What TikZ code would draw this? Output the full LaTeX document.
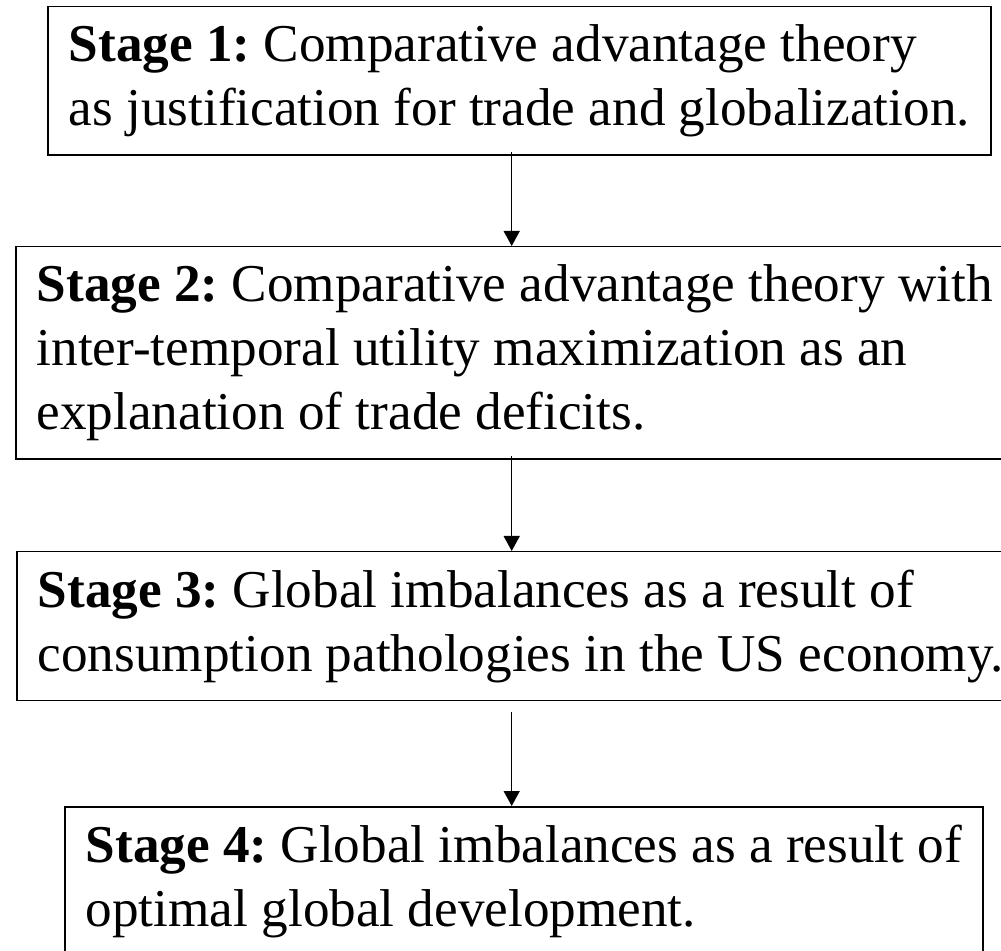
\documentclass[tikz,border=0pt]{standalone}
\usepackage{fontspec}
\setmainfont{Liberation Serif}
\usetikzlibrary{arrows.meta,positioning}

\begin{document}
\begin{tikzpicture}[x=0.5pt,y=0.5pt,
  stagebox/.style={draw,line width=0.75pt,anchor=north west,align=left,
    inner xsep=10.5pt,inner ysep=9pt,font=\fontsize{26.6}{32}\selectfont\frenchspacing},
  flow/.style={line width=0.75pt,-{Triangle[length=7.5pt,width=8pt]}}]
  \useasboundingbox (0,0) rectangle (1001,-951);
  \clip (0,0) rectangle (1001,-951);
  \coordinate (axis) at (511.7,0);
  \node[stagebox] (s1) at (47,-6) {\textbf{Stage 1:} Comparative advantage theory\\as justification for trade and globalization.};
  \node[stagebox] (s2) at (15,-246) {\textbf{Stage 2:} Comparative advantage theory with\\inter-temporal utility maximization as an\\explanation of trade deficits.};
  \node[stagebox] (s3) at (16,-551) {\textbf{Stage 3:} Global imbalances as a result of\\consumption pathologies in the US economy.};
  \node[stagebox] (s4) at (64,-806) {\textbf{Stage 4:} Global imbalances as a result of\\optimal global development.};
  \draw[flow] ([yshift=2pt]s1.south -| axis) -- (s2.north -| axis);
  \draw[flow] ([yshift=2pt]s2.south -| axis) -- (s3.north -| axis);
  \draw[flow] ([yshift=-5.5pt]s3.south -| axis) -- (s4.north -| axis);
\end{tikzpicture}
\end{document}
